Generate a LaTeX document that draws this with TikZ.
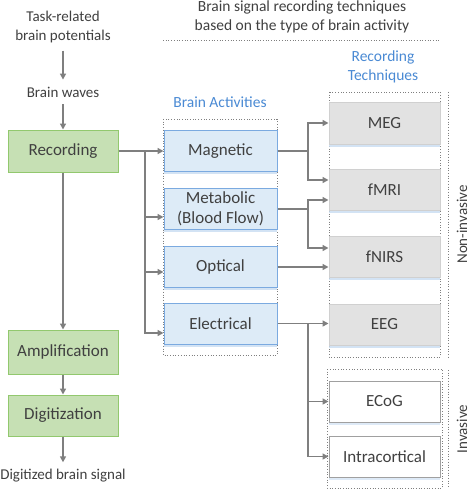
\documentclass[tikz,border=0pt]{standalone}
\usepackage{fontspec}
\setmainfont{Carlito}
\usetikzlibrary{arrows.meta,shadows}
\definecolor{txt}{HTML}{404040}
\definecolor{grnF}{HTML}{C6E0B4}
\definecolor{grnB}{HTML}{92C86E}
\definecolor{bluF}{HTML}{DDEBF7}
\definecolor{bluB}{HTML}{7BAAE0}
\definecolor{gryF}{HTML}{E2E2E2}
\definecolor{gryB}{HTML}{D0D0D0}
\definecolor{whtB}{HTML}{A0A0A0}
\definecolor{bluT}{HTML}{4A8AD4}
\definecolor{arrc}{HTML}{7F7F7F}
\definecolor{shd}{HTML}{C9DDF2}
\newcommand\bxf{\fontsize{17}{20}\selectfont}
\newcommand\lbf{\fontsize{15}{19}\selectfont}
\newcommand\blf{\fontsize{15.5}{19}\selectfont}
\begin{document}
\begin{tikzpicture}[x=1pt,y=-1pt,
  boxbase/.style={line width=1pt, font=\bxf, text=txt, inner sep=0pt, align=center},
  greenbox/.style={boxbase, draw=grnB, fill=grnF, minimum width=110pt},
  bluebox/.style={boxbase, draw=bluB, fill=bluF, minimum width=113pt, minimum height=41pt,
     drop shadow={shadow xshift=0pt, shadow yshift=-2.5pt, fill=shd, opacity=0.8}},
  graybox/.style={boxbase, draw=gryB, fill=gryF, minimum width=111pt, minimum height=41pt,
     drop shadow={shadow xshift=0pt, shadow yshift=-2.5pt, fill=shd, opacity=0.8}},
  whitebox/.style={boxbase, draw=whtB, fill=white, minimum width=111pt, minimum height=41pt,
     drop shadow={shadow xshift=0pt, shadow yshift=-2.5pt, fill=shd, opacity=0.6}},
  lbl/.style={font=\lbf, text=txt, align=center, inner sep=7pt},
  bluelbl/.style={font=\blf, text=bluT, align=center, inner sep=0pt},
  ln/.style={draw=arrc, line width=1.5pt},
  arr/.style={ln, -{Triangle[length=6pt,width=6pt]}},
  dots/.style={draw=arrc, dotted, line width=0.7pt}
]
\fill[white] (0,0) rectangle (472,492);
\useasboundingbox (0,0) rectangle (472,492);

% ---------- left column ----------
\node[lbl] (t1) at (63,27.5) {Task-related\\brain potentials};
\node[lbl] (bw) at (63,92) {Brain waves};
\node[greenbox, minimum height=42pt] (rec) at (63,151) {Recording};
\node[greenbox, minimum height=44pt] (amp) at (63,352) {Amplification};
\node[greenbox, minimum height=41pt] (dig) at (63,415.5) {Digitization};
\node[lbl] (out) at (63,476) {Digitized brain signal};

\draw[arr] (t1) -- (bw);
\draw[arr] (bw) -- (rec);
\draw[arr] (rec) -- (amp);
\draw[arr] (amp) -- (dig);
\draw[arr] (dig) -- (out);

% ---------- title ----------
\node[font=\blf, text=txt, align=center, inner sep=0pt] (title) at (302,16.5)
  {Brain signal recording techniques\\based on the type of brain activity};
\coordinate (tl) at (163,40);
\coordinate (tr) at (441,40);
\draw[dots] (tl) -- (tr);

% ---------- brain activities ----------
\node[bluelbl] (balbl) at (220,102) {Brain Activities};
\draw[dots] (163,119) rectangle (277,355);
\node[bluebox] (mag) at (220.5,151) {Magnetic};
\node[bluebox] (met) at (220.5,209) {Metabolic\\(Blood Flow)};
\node[bluebox] (opt) at (220.5,267) {Optical};
\node[bluebox] (ele) at (220.5,323.5) {Electrical};

% ---------- recording techniques ----------
\node[bluelbl] (rtlbl) at (383,66.5) {Recording\\Techniques};
\draw[dots] (329,92) rectangle (440,357);
\draw[dots] (327,369) rectangle (442,488);
\node[graybox] (meg) at (384.5,123.5) {MEG};
\node[graybox] (fmri) at (384.5,189.5) {fMRI};
\node[graybox] (fnirs) at (384.5,257) {fNIRS};
\node[graybox] (eeg) at (384.5,324.5) {EEG};
\node[whitebox] (ecog) at (384.5,401.5) {ECoG};
\node[whitebox] (intra) at (384.5,456.5) {Intracortical};

% side brackets
\coordinate (nia) at (448,92);
\coordinate (nib) at (448,357);
\coordinate (iva) at (448,370);
\coordinate (ivb) at (448,488);
\draw[dots] (nia) -- (nib);
\draw[dots] (iva) -- (ivb);
\node[font=\lbf, text=txt, rotate=90, inner sep=0pt] (nilbl) at (462,224.5) {Non-invasive};
\node[font=\lbf, text=txt, rotate=90, inner sep=0pt] (ivlbl) at (462,429) {Invasive};

% ---------- connectors: recording -> activities ----------
\coordinate (ba) at (145,151);
\coordinate (bb) at (145,217);
\coordinate (bc) at (145,272);
\coordinate (bd) at (145,333);
\draw[arr] (rec.east) -- (mag.west);
\draw[arr] (ba) |- (bd -| ele.west);
\draw[arr] (bb) -- (bb -| met.west);
\draw[arr] (bc) -- (bc -| opt.west);

% ---------- connectors: activities -> techniques ----------
\coordinate (ex) at (308,0);
\coordinate (mt) at (308,123);
\coordinate (mb) at (308,180);
\coordinate (na) at (308,200);
\coordinate (nb) at (308,248);
\draw[arr] (mag.east) -| (mt) -- (mt -| meg.west);
\draw[arr] (mag.east -| ex) |- (mb -| fmri.west);
\draw[arr] (met.east) -| (na) -- (na -| fmri.west);
\draw[arr] (met.east -| ex) |- (nb -| fnirs.west);
\draw[arr] (opt.east) -- (opt.east -| fnirs.west);
\draw[arr] (ele.east) -- (ele.east -| eeg.west);
\draw[arr] (ele.east -| ex) |- (ecog.west);
\draw[arr] (ele.east -| ex) |- (intra.west);
\end{tikzpicture}
\end{document}
